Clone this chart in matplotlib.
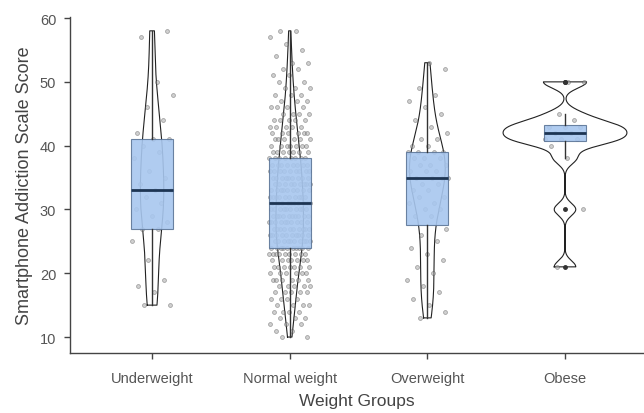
import numpy as np
import matplotlib.pyplot as plt

plt.rcParams['font.family'] = ['Liberation Sans', 'DejaVu Sans']

groups = ["Underweight", "Normal weight", "Overweight", "Obese"]

# scores per group
underweight = [15, 15, 17, 18, 19, 22, 25, 27, 27, 28, 29, 30, 31, 32, 33, 33,
               34, 35, 36, 38, 39, 40, 41, 41, 42, 44, 46, 48, 50, 57, 58]

normal_scores = list(range(10, 59))
normal_counts = [2, 2, 3, 3, 4, 4, 4, 5, 5, 6, 6, 7, 7, 9, 10, 10, 10, 10, 10,
                 10, 10, 10, 10, 9, 9, 9, 9, 8, 8, 7, 7, 6, 6, 5, 5, 4, 4, 3,
                 3, 3, 2, 2, 2, 2, 1, 1, 1, 1, 2]
normal = np.repeat(normal_scores, normal_counts)

overweight = [13, 14, 15, 16, 17, 18, 19, 20, 21, 22, 23, 24, 25, 26, 27, 29,
              29, 30, 30, 31, 31, 32, 32, 33, 33, 34, 34, 35, 35, 35, 35, 36,
              36, 36, 37, 37, 37, 38, 38, 38, 39, 39, 39, 39, 40, 40, 41, 41,
              42, 43, 44, 45, 46, 47, 48, 49, 52, 53]

obese = [21, 30, 38, 40, 41, 41, 41, 42, 42, 43, 43, 43, 44, 45, 50, 50]

data = [np.array(underweight, float), np.array(normal, float),
        np.array(overweight, float), np.array(obese, float)]

# half-width of each violin at its widest point
violin_w = [0.085, 0.10, 0.13, 0.45]


def nrd0(x):
    q1, q3 = np.percentile(x, [25, 75])
    return 0.9 * min(np.std(x, ddof=1), (q3 - q1) / 1.34) * len(x) ** -0.2


def kde(x, grid):
    bw = nrd0(x)
    z = (grid[:, None] - x[None, :]) / bw
    return np.exp(-0.5 * z ** 2).sum(axis=1) / (len(x) * bw * np.sqrt(2 * np.pi))


fig = plt.figure(figsize=(6.44, 4.14), dpi=100)
ax = fig.add_axes([0.109, 0.145, 0.891, 0.812])

pos = np.arange(1, len(groups) + 1)

# violins
for p, x, vw in zip(pos, data, violin_w):
    g = np.linspace(x.min(), x.max(), 512)
    d = kde(x, g)
    w = vw * d / d.max()
    xs = np.concatenate([p - w, (p + w)[::-1], [p - w[0]]])
    ys = np.concatenate([g, g[::-1], [g[0]]])
    ax.plot(xs, ys, color='#222222', lw=0.8, zorder=2)

# jittered points
for p, x in zip(pos, data):
    i = np.arange(len(x))
    off = ((i * 0.618034 + 0.31) % 1 - 0.5) * 0.3
    ax.scatter(p + off, x, s=8, facecolor='#a0a0a0', edgecolor='#4a4a4a',
               linewidth=0.5, alpha=0.5, zorder=3)

# boxes
bp = ax.boxplot(data, positions=pos, widths=0.305, patch_artist=True,
                showcaps=False, whis=1.5, zorder=4,
                flierprops=dict(marker='o', markersize=2.5,
                                markerfacecolor='#333333',
                                markeredgecolor='#333333'),
                medianprops=dict(color='#1d3553', lw=2),
                whiskerprops=dict(color='#333333', lw=1),
                boxprops=dict(facecolor='#a8c7ef', edgecolor='#5d7698', lw=0.8))
for b in bp['boxes']:
    b.set_alpha(0.9)

ax.set_xlim(0.405, 4.574)
ax.set_ylim(7.5, 60.2)
ax.set_yticks([10, 20, 30, 40, 50, 60])
ax.set_xticks(pos)
ax.set_xticklabels(groups)

for s in ['top', 'right']:
    ax.spines[s].set_visible(False)
for s in ['left', 'bottom']:
    ax.spines[s].set_color('#444444')
    ax.spines[s].set_linewidth(1)
ax.tick_params(colors='#444444', labelcolor='#555555', labelsize=10.5,
               length=4, width=1)
ax.tick_params(axis='x', pad=9)
ax.tick_params(axis='y', pad=6)

ax.set_xlabel("Weight Groups", fontsize=12.5, color='#444444', labelpad=6)
ax.set_ylabel("Smartphone Addiction Scale Score", fontsize=13,
              color='#444444', labelpad=5)

plt.savefig("out.png", dpi=100)
